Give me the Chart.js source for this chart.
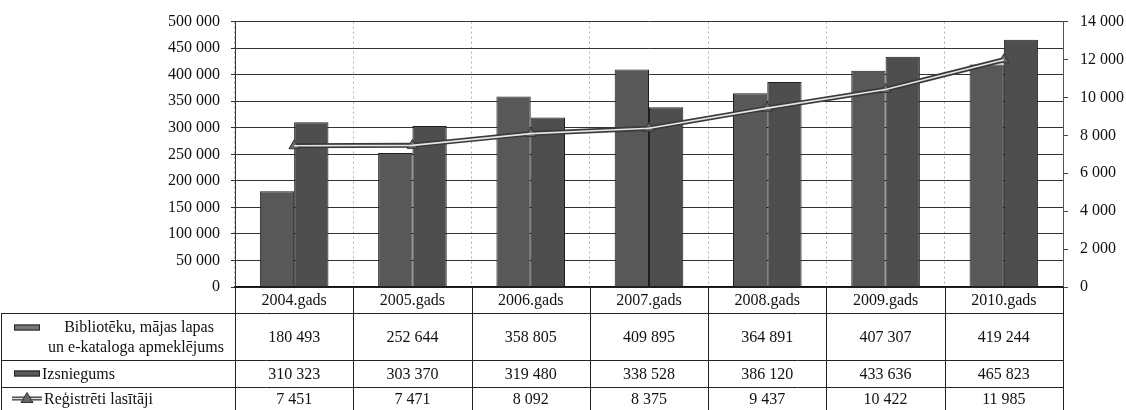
<!DOCTYPE html>
<html>
<head>
<meta charset="utf-8">
<script src="https://cdn.jsdelivr.net/npm/chart.js@4/dist/chart.umd.min.js"></script>
<style>
  html, body { margin: 0; padding: 0; background: #fff; }
  #wrap { width: 1126px; height: 410px; position: relative; }
</style>
</head>
<body>
<div id="wrap"><canvas id="c"></canvas></div>
<script>
const categories = ['2004.gads', '2005.gads', '2006.gads', '2007.gads', '2008.gads', '2009.gads', '2010.gads'];
const seriesNames = ['Bibliotēku, mājas lapas un e-kataloga apmeklējums', 'Izsniegums', 'Reģistrēti lasītāji'];
const visits = [180493, 252644, 358805, 409895, 364891, 407307, 419244];
const loans = [310323, 303370, 319480, 338528, 386120, 433636, 465823];
const readers = [7451, 7471, 8092, 8375, 9437, 10422, 11985];
const leftTicks = { min: 0, max: 500000, step: 50000 };
const rightTicks = { min: 0, max: 14000, step: 2000 };

const FONT = '"Liberation Serif", "Times New Roman", serif';
const FS = 16;
const fmt = v => String(v).replace(/\B(?=(\d{3})+(?!\d))/g, ' ');

const CHART_LEFT = 235, CHART_RIGHT = 1063, CHART_TOP = 20, CHART_BOTTOM = 287;
const ROWS = [287, 313, 360, 387, 410];

const lineInner = {
  id: 'lineInner',
  afterDatasetsDraw(chart) {
    const meta = chart.getDatasetMeta(2);
    const ctx = chart.ctx;
    ctx.save();
    ctx.strokeStyle = '#e6e6e6';
    ctx.lineWidth = 1.6;
    ctx.beginPath();
    meta.data.forEach((p, i) => { if (i === 0) ctx.moveTo(p.x, p.y); else ctx.lineTo(p.x, p.y); });
    ctx.stroke();
    ctx.restore();
  }
};

const dataTable = {
  id: 'dataTable',
  afterDraw(chart) {
    const ctx = chart.ctx;
    const xs = chart.scales.x;
    const area = chart.chartArea;
    const n = categories.length;
    const cw = (area.right - area.left) / n;
    ctx.save();
    ctx.strokeStyle = '#222';
    ctx.lineWidth = 1;
    for (let r = 1; r < ROWS.length; r++) {
      const y = Math.round(ROWS[r]) + 0.5;
      ctx.beginPath(); ctx.moveTo(1, y); ctx.lineTo(area.right, y); ctx.stroke();
    }
    for (let i = 0; i <= n; i++) {
      const x = Math.round(area.left + i * cw) + 0.5;
      ctx.beginPath(); ctx.moveTo(x, ROWS[0]); ctx.lineTo(x, 410); ctx.stroke();
    }
    ctx.beginPath(); ctx.moveTo(1.5, ROWS[1]); ctx.lineTo(1.5, 410); ctx.stroke();

    ctx.fillStyle = '#111';
    ctx.font = FS + 'px ' + FONT;
    ctx.textAlign = 'center';
    ctx.textBaseline = 'middle';
    const rowsData = [visits, loans, readers];
    for (let i = 0; i < n; i++) {
      const cx = xs.getPixelForValue(i);
      ctx.fillText(categories[i], cx, (ROWS[0] + ROWS[1]) / 2 + 1);
      rowsData.forEach((arr, r) => {
        ctx.fillText(fmt(arr[i]), cx, (ROWS[r + 1] + ROWS[r + 2]) / 2 + 1);
      });
    }
    const keyBar = (x, y, color) => {
      ctx.fillStyle = color; ctx.fillRect(x, y - 3, 26, 6);
      ctx.strokeStyle = '#222'; ctx.strokeRect(x + 0.5, y - 2.5, 25, 5);
    };
    const y1 = (ROWS[1] + ROWS[2]) / 2;
    keyBar(14, y1 - 9, '#777');
    ctx.fillStyle = '#111';
    const words = seriesNames[0].split(' ');
    ctx.fillText(words.slice(0, 3).join(' '), 139, y1 - 9);
    ctx.fillText(words.slice(3).join(' '), 136, y1 + 11);
    const y2 = (ROWS[2] + ROWS[3]) / 2;
    keyBar(14, y2, '#5a5a5a');
    ctx.textAlign = 'left';
    ctx.fillStyle = '#111';
    ctx.fillText(seriesNames[1], 42, y2 + 1);
    const y3 = (ROWS[3] + ROWS[4]) / 2;
    ctx.strokeStyle = '#3a3a3a'; ctx.lineWidth = 4;
    ctx.beginPath(); ctx.moveTo(12, y3); ctx.lineTo(42, y3); ctx.stroke();
    ctx.strokeStyle = '#ddd'; ctx.lineWidth = 1.4;
    ctx.beginPath(); ctx.moveTo(12, y3); ctx.lineTo(42, y3); ctx.stroke();
    ctx.fillStyle = '#666'; ctx.strokeStyle = '#333'; ctx.lineWidth = 1;
    ctx.beginPath(); ctx.moveTo(27, y3 - 6); ctx.lineTo(33, y3 + 4); ctx.lineTo(21, y3 + 4); ctx.closePath(); ctx.fill(); ctx.stroke();
    ctx.fillStyle = '#111';
    ctx.fillText(seriesNames[2], 44, y3 + 1);
    ctx.restore();
  }
};

new Chart(document.getElementById('c'), {
  data: {
    labels: categories,
    datasets: [
      { type: 'bar', label: seriesNames[0], data: visits, yAxisID: 'y', order: 1,
        backgroundColor: '#585858', borderColor: '#1e1e1e', borderWidth: 1,
        categoryPercentage: 0.58, barPercentage: 1.0 },
      { type: 'bar', label: seriesNames[1], data: loans, yAxisID: 'y', order: 2,
        backgroundColor: '#4e4e4e', borderColor: '#1e1e1e', borderWidth: 1,
        categoryPercentage: 0.58, barPercentage: 1.0 },
      { type: 'line', label: seriesNames[2], data: readers, yAxisID: 'y1', order: 0,
        borderColor: '#3a3a3a', borderWidth: 5, tension: 0,
        pointStyle: 'triangle', pointRadius: 6, pointBackgroundColor: '#666', pointBorderColor: '#333', pointBorderWidth: 1 }
    ]
  },
  options: {
    responsive: true,
    maintainAspectRatio: false,
    animation: false,
    layout: { padding: { top: CHART_TOP, left: 0, right: 0, bottom: 0 } },
    plugins: { legend: { display: false }, tooltip: { enabled: false } },
    scales: {
      x: {
        type: 'category', offset: true,
        grid: { offset: true, color: 'rgba(0,0,0,0.3)', lineWidth: 1, drawTicks: false },
        border: { display: true, color: '#111', width: 1.5, dash: [2, 3] },
        ticks: { display: false },
        afterFit: s => { s.height = 410 - CHART_BOTTOM; }
      },
      y: {
        position: 'left', min: leftTicks.min, max: leftTicks.max,
        ticks: { stepSize: leftTicks.step, padding: 11, color: '#111', font: { family: FONT, size: FS }, callback: v => fmt(v) },
        grid: { color: '#333', lineWidth: 1, tickLength: 4 },
        border: { display: true, color: '#333' },
        afterFit: s => { s.width = CHART_LEFT; }
      },
      y1: {
        position: 'right', min: rightTicks.min, max: rightTicks.max,
        ticks: { stepSize: rightTicks.step, padding: 12, color: '#111', font: { family: FONT, size: FS }, callback: v => fmt(v) },
        grid: { drawOnChartArea: false, color: '#444', tickLength: 5 },
        border: { display: true, color: '#555' },
        afterFit: s => { s.width = 1126 - CHART_RIGHT; }
      }
    }
  },
  plugins: [lineInner, dataTable]
});
</script>
</body>
</html>
